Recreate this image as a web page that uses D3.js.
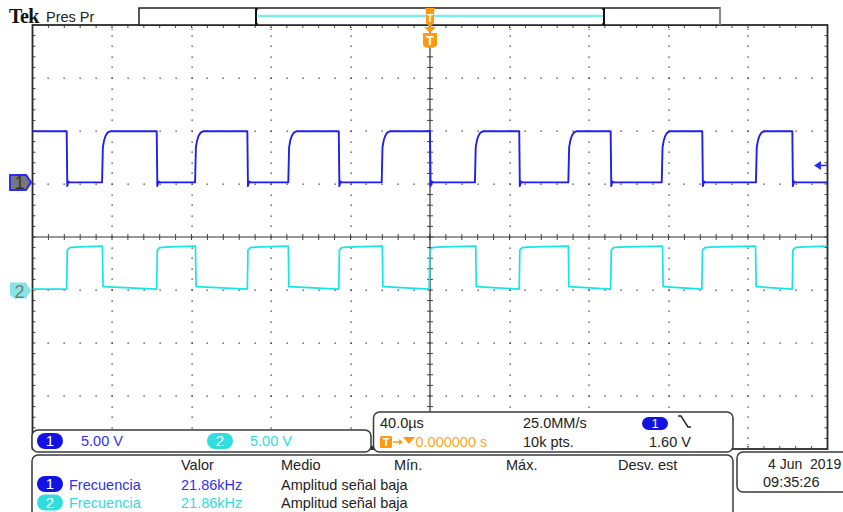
<!DOCTYPE html>
<html><head><meta charset="utf-8">
<script src="https://cdn.jsdelivr.net/npm/d3@7"></script>
<style>body{margin:0;background:#fff}svg{display:block}text{white-space:pre}</style>
</head><body>
<script>
// ---------------- data ----------------
const timeRange = [-200, 200];          // µs, 40 µs/div, 10 div
const divRange = [-4, 4];               // vertical divisions
const voltsPerDiv = [5.00, 5.00];       // ch1, ch2
const chPositions = [1.03, -1.01];      // ground marker position (div)
const ch1FallTimes = [-182.8, -137.5, -91.9, -45.9, 0.0, 44.9, 90.9, 137.0, 182.3];
const ch1RiseTimes = [-165.0, -118.2, -71.3, -24.3, 22.6, 69.6, 116.6, 164.0];
const ch2RiseTimes = [-182.8, -137.5, -91.9, -45.9, -0.4, 44.9, 90.9, 136.8, 182.3];
const ch2FallTimes = [-164.8, -118.0, -71.3, -24.0, 23.0, 69.6, 117.0, 163.8];
// edge shapes: [µs after edge, volts]
const ch1RiseShape = [[0, 0.0], [0.4, 3.3], [1.0, 3.95], [1.8, 4.4], [2.8, 4.7], [4.0, 4.82]];
const ch1FallShape = [[0, 4.82], [0.3, -0.35], [0.9, 0.08], [1.6, 0.0]];
const ch1Ends = [4.82, 0.0];            // high, low level at end of each half period
const ch2RiseShape = [[0, 0.14], [0.3, 3.82], [1.5, 4.05], [4.0, 4.1]];
const ch2FallShape = [[0, 4.2], [0.3, 0.36]];
const ch2Ends = [4.2, 0.14];
const triggerLevel = 1.60;              // V on ch1
const scaleLabels = ["5.00 V", "5.00 V"];
const horizLabels = ["40.0\u00b5s", "25.0MM/s", "10k pts.", "1.60 V"];
const triggerPosLabel = "0.000000 s";
const measHeaders = ["Valor", "Medio", "M\u00edn.", "M\u00e1x.", "Desv. est"];
const measNames = ["Frecuencia", "Frecuencia"];
const measValues = ["21.86kHz", "21.86kHz"];
const measMeans = ["Amplitud se\u00f1al baja", "Amplitud se\u00f1al baja"];
const dateLines = ["4 Jun  2019", "09:35:26"];

// ---------------- styling ----------------
const W = 843, H = 512;
const BLUE = "#1f1ff0", BLUE_TXT = "#3030f4", BLUE_OVAL = "#1212e4";
const CYAN = "#14e6e6", CYAN_TXT = "#2ddede", CYAN_OVAL = "#30dede";
const ORANGE = "#ff9a10", DARK = "#222";
const FONT = "'Liberation Sans', Arial, sans-serif";

const svg = d3.select("body").append("svg").attr("width", W).attr("height", H)
  .style("font-family", FONT);
svg.append("rect").attr("width", W).attr("height", H).attr("fill", "#fff");

const x = d3.scaleLinear().domain(timeRange).range([32.5, 827.5]);
const y = d3.scaleLinear().domain(divRange).range([449, 25]);
const [x0, x1] = x.range(), [yb, yt] = y.range();

// ---------------- graticule ----------------
const g = svg.append("g");
const xMinor = d3.range(-25, 26).map(i => x(i * 8));
const yMinor = d3.range(-20, 21).map(i => y(i * 0.2));
const xMajorIdx = d3.range(-4, 5).filter(i => i !== 0);
const yMajorIdx = d3.range(-3, 4).filter(i => i !== 0);
yMajorIdx.forEach(j => {
  g.selectAll(null).data(xMinor.slice(1, -1)).enter().append("rect")
    .attr("x", d => Math.round(d) - 0.5).attr("y", Math.round(y(j)) - 0.5)
    .attr("width", 1.3).attr("height", 1.3).attr("fill", "#3a3a3a");
});
xMajorIdx.forEach(i => {
  g.selectAll(null).data(yMinor.slice(1, -1)).enter().append("rect")
    .attr("x", Math.round(x(i * 40)) - 0.5).attr("y", d => Math.round(d) - 0.5)
    .attr("width", 1.3).attr("height", 1.3).attr("fill", "#3a3a3a");
  [yt + 2, yt + 4, yb - 3, yb - 5].forEach(yy =>
    g.append("rect").attr("x", Math.round(x(i * 40)) - 0.5).attr("y", yy)
      .attr("width", 1.2).attr("height", 1).attr("fill", "#555"));
});
xMinor.slice(1, -1).forEach(xx => {
  g.append("line").attr("x1", xx).attr("x2", xx).attr("y1", yt).attr("y2", yt + 3).attr("stroke", "#444");
  g.append("line").attr("x1", xx).attr("x2", xx).attr("y1", yb).attr("y2", yb - 3).attr("stroke", "#444");
  g.append("line").attr("x1", xx).attr("x2", xx).attr("y1", y(0) - 3).attr("y2", y(0) + 3).attr("stroke", "#444");
});
yMinor.slice(1, -1).forEach(yy => {
  g.append("line").attr("y1", yy).attr("y2", yy).attr("x1", x0).attr("x2", x0 + 3).attr("stroke", "#444");
  g.append("line").attr("y1", yy).attr("y2", yy).attr("x1", x1).attr("x2", x1 - 3).attr("stroke", "#444");
  g.append("line").attr("y1", yy).attr("y2", yy).attr("x1", x(0) - 3).attr("x2", x(0) + 3).attr("stroke", "#444");
});
g.append("line").attr("x1", x0).attr("x2", x1).attr("y1", y(0)).attr("y2", y(0)).attr("stroke", "#333").attr("stroke-width", 1.2);
g.append("line").attr("x1", x(0)).attr("x2", x(0)).attr("y1", yt).attr("y2", yb).attr("stroke", "#333").attr("stroke-width", 1.2);
g.append("rect").attr("x", x0).attr("y", yt).attr("width", x1 - x0).attr("height", yb - yt)
  .attr("fill", "none").attr("stroke", "#2a2a2a").attr("stroke-width", 1.8);

// ---------------- traces ----------------
function buildTrace(rises, falls, riseShape, fallShape, ends) {
  const ev = rises.map(t => ({ t, r: true })).concat(falls.map(t => ({ t, r: false })))
    .sort((a, b) => a.t - b.t);
  const pts = [[timeRange[0], ev[0].r ? ends[1] : ends[0]]];
  ev.forEach((e, i) => {
    const shape = e.r ? riseShape : fallShape;
    shape.forEach(([dt, v]) => pts.push([e.t + dt, v]));
    const next = i + 1 < ev.length ? ev[i + 1].t : timeRange[1];
    pts.push([next, e.r ? ends[0] : ends[1]]);
  });
  return pts.filter(p => p[0] >= timeRange[0] && p[0] <= timeRange[1]);
}
svg.append("clipPath").attr("id", "clip").append("rect")
  .attr("x", x0).attr("y", yt).attr("width", x1 - x0).attr("height", yb - yt);
const traces = [
  { pts: buildTrace(ch1RiseTimes, ch1FallTimes, ch1RiseShape, ch1FallShape, ch1Ends), ch: 0, color: BLUE, w: 1.9 },
  { pts: buildTrace(ch2RiseTimes, ch2FallTimes, ch2RiseShape, ch2FallShape, ch2Ends), ch: 1, color: CYAN, w: 1.7 }
];
traces.forEach(tr => {
  const line = d3.line().x(d => x(d[0])).y(d => y(chPositions[tr.ch] + d[1] / voltsPerDiv[tr.ch]));
  svg.append("path").attr("d", line(tr.pts)).attr("fill", "none").attr("stroke", tr.color)
    .attr("stroke-width", tr.w).attr("stroke-linejoin", "round").attr("clip-path", "url(#clip)");
});

// ---------------- channel ground markers ----------------
const gy1 = y(chPositions[0]), gy2 = y(chPositions[1]);
svg.append("path").attr("d", `M10,${gy1 - 7.5} L26,${gy1 - 7.5} L31,${gy1} L26,${gy1 + 7.5} L10,${gy1 + 7.5} Z`)
  .attr("fill", "#777").attr("stroke", "#2a2aff").attr("stroke-width", 2).attr("stroke-linejoin", "round");
svg.append("text").attr("x", 19.5).attr("y", gy1 + 6.5).attr("text-anchor", "middle")
  .attr("font-size", 18).attr("fill", "#333").text("1");
svg.append("path").attr("d", `M10,${gy2 - 8} L26,${gy2 - 8} L31,${gy2} L26,${gy2 + 8} L14,${gy2 + 8} L10,${gy2 + 4} Z`)
  .attr("fill", "#86e6e6");
svg.append("text").attr("x", 19.5).attr("y", gy2 + 7).attr("text-anchor", "middle")
  .attr("font-size", 18).attr("fill", "#7a7a7a").text("2");

const ty = y(chPositions[0] + triggerLevel / voltsPerDiv[0]);
svg.append("path").attr("d", `M814,${ty} L821,${ty - 4.5} L821,${ty + 4.5} Z`).attr("fill", "#2a2aff");
svg.append("line").attr("x1", 820).attr("x2", x1).attr("y1", ty).attr("y2", ty).attr("stroke", "#2a2aff").attr("stroke-width", 1.5);

// ---------------- top bar ----------------
svg.append("text").attr("x", 9).attr("y", 23).attr("font-family", "'Liberation Serif', 'Times New Roman', serif")
  .attr("font-weight", "bold").attr("font-size", 20).attr("letter-spacing", -0.6).attr("fill", "#111").text("Tek");
svg.append("text").attr("x", 46).attr("y", 22).attr("font-size", 14.5).attr("fill", DARK).text("Pres Pr");
svg.append("rect").attr("x", 139).attr("y", 8).attr("width", 581).attr("height", 17)
  .attr("fill", "#fff").attr("stroke", "#222").attr("stroke-width", 1.5);
svg.append("line").attr("x1", 720).attr("x2", 720).attr("y1", 8).attr("y2", 25).attr("stroke", "#888").attr("stroke-width", 2);
svg.append("line").attr("x1", 258).attr("x2", 603).attr("y1", 16).attr("y2", 16).attr("stroke", "#78eeee").attr("stroke-width", 2.5);
[256, 604].forEach((bx, k) => {
  svg.append("line").attr("x1", bx).attr("x2", bx).attr("y1", 8).attr("y2", 25).attr("stroke", "#111").attr("stroke-width", 2);
  const d = k === 0 ? 2 : -2;
  svg.append("line").attr("x1", bx).attr("x2", bx + d).attr("y1", 9).attr("y2", 9).attr("stroke", "#111").attr("stroke-width", 1.5);
  svg.append("line").attr("x1", bx).attr("x2", bx + d).attr("y1", 24).attr("y2", 24).attr("stroke", "#111").attr("stroke-width", 1.5);
});
const tx = x(0);
svg.append("path").attr("d", `M${tx - 5},8 L${tx + 5},8 L${tx + 4},12 L${tx + 4},23 L${tx},27 L${tx - 4},23 L${tx - 4},12 Z`).attr("fill", ORANGE);
svg.append("text").attr("x", tx).attr("y", 22).attr("text-anchor", "middle").attr("font-size", 10).attr("font-weight", "bold").attr("fill", "#fff").text("T");
svg.append("path").attr("d", `M${tx - 6},27 L${tx + 6},27 L${tx},33 Z`).attr("fill", ORANGE);
svg.append("path").attr("d", `M${tx - 7},33 L${tx + 7},33 L${tx + 7},44 Q${tx + 7},48 ${tx},48 Q${tx - 7},48 ${tx - 7},44 Z`).attr("fill", ORANGE);
svg.append("text").attr("x", tx).attr("y", 45).attr("text-anchor", "middle").attr("font-size", 13).attr("font-weight", "bold").attr("fill", "#fff").text("T");

// ---------------- bottom panels ----------------
function panel(px, py, pw, ph) {
  svg.append("rect").attr("x", px).attr("y", py).attr("width", pw).attr("height", ph).attr("rx", 6)
    .attr("fill", "#fff").attr("stroke", "#3a3a3a").attr("stroke-width", 1.5);
}
function oval(cx, cy, w, h, fill, label, fs) {
  svg.append("rect").attr("x", cx - w / 2).attr("y", cy - h / 2).attr("width", w).attr("height", h)
    .attr("rx", h / 2).attr("fill", fill);
  svg.append("text").attr("x", cx).attr("y", cy + fs * 0.36).attr("text-anchor", "middle")
    .attr("font-size", fs).attr("fill", "#fff").text(label);
}
function txt(tx_, ty_, s, color, fs) {
  svg.append("text").attr("x", tx_).attr("y", ty_).attr("font-size", fs || 14.5).attr("fill", color || DARK).text(s);
}
panel(32, 430, 339, 22);
oval(50, 441, 26, 16, BLUE_OVAL, "1", 15);
txt(81, 446, scaleLabels[0], BLUE_TXT);
oval(220, 441, 26, 16, CYAN_OVAL, "2", 15);
txt(250, 446, scaleLabels[1], CYAN_TXT);
svg.append("rect").attr("x", 371).attr("y", 446).attr("width", 5).attr("height", 4).attr("fill", "#333");
panel(373.5, 412, 359.5, 40);
txt(380, 428, horizLabels[0]);
txt(523, 428, horizLabels[1]);
oval(655, 423.5, 26, 13, BLUE_OVAL, "1", 13);
svg.append("path").attr("d", "M678,416 L681,416 L688,427 L691,427").attr("fill", "none").attr("stroke", "#222").attr("stroke-width", 1.4);
svg.append("rect").attr("x", 380).attr("y", 436).attr("width", 12).attr("height", 12).attr("rx", 1.5).attr("fill", ORANGE);
svg.append("text").attr("x", 386).attr("y", 446).attr("text-anchor", "middle").attr("font-size", 11).attr("font-weight", "bold").attr("fill", "#fff").text("T");
svg.append("line").attr("x1", 393).attr("x2", 400).attr("y1", 442).attr("y2", 442).attr("stroke", ORANGE).attr("stroke-width", 1.5);
svg.append("path").attr("d", "M399,439 L403,442 L399,445 Z").attr("fill", ORANGE);
svg.append("path").attr("d", "M403,437 L415,437 L409,444 Z").attr("fill", ORANGE);
txt(415.5, 447, triggerPosLabel, "#ffa41f");
txt(523, 447, horizLabels[2]);
txt(649, 447, horizLabels[3]);
panel(32, 455, 701, 80);
const headerX = [181, 281, 394, 506, 618];
measHeaders.forEach((h, i) => txt(headerX[i], 470, h));
const rowY = [489.5, 508];
const rowColors = [[BLUE_OVAL, BLUE_TXT], [CYAN_OVAL, CYAN_TXT]];
measNames.forEach((n, i) => {
  oval(50, rowY[i] - 5.5, 26, 16, rowColors[i][0], String(i + 1), 15);
  txt(69, rowY[i], n, rowColors[i][1]);
  txt(181, rowY[i], measValues[i], rowColors[i][1]);
  txt(281, rowY[i], measMeans[i]);
});
panel(737, 452, 130, 40);
txt(768, 468.5, dateLines[0], DARK, 14);
txt(763, 487, dateLines[1]);
</script>
</body></html>
